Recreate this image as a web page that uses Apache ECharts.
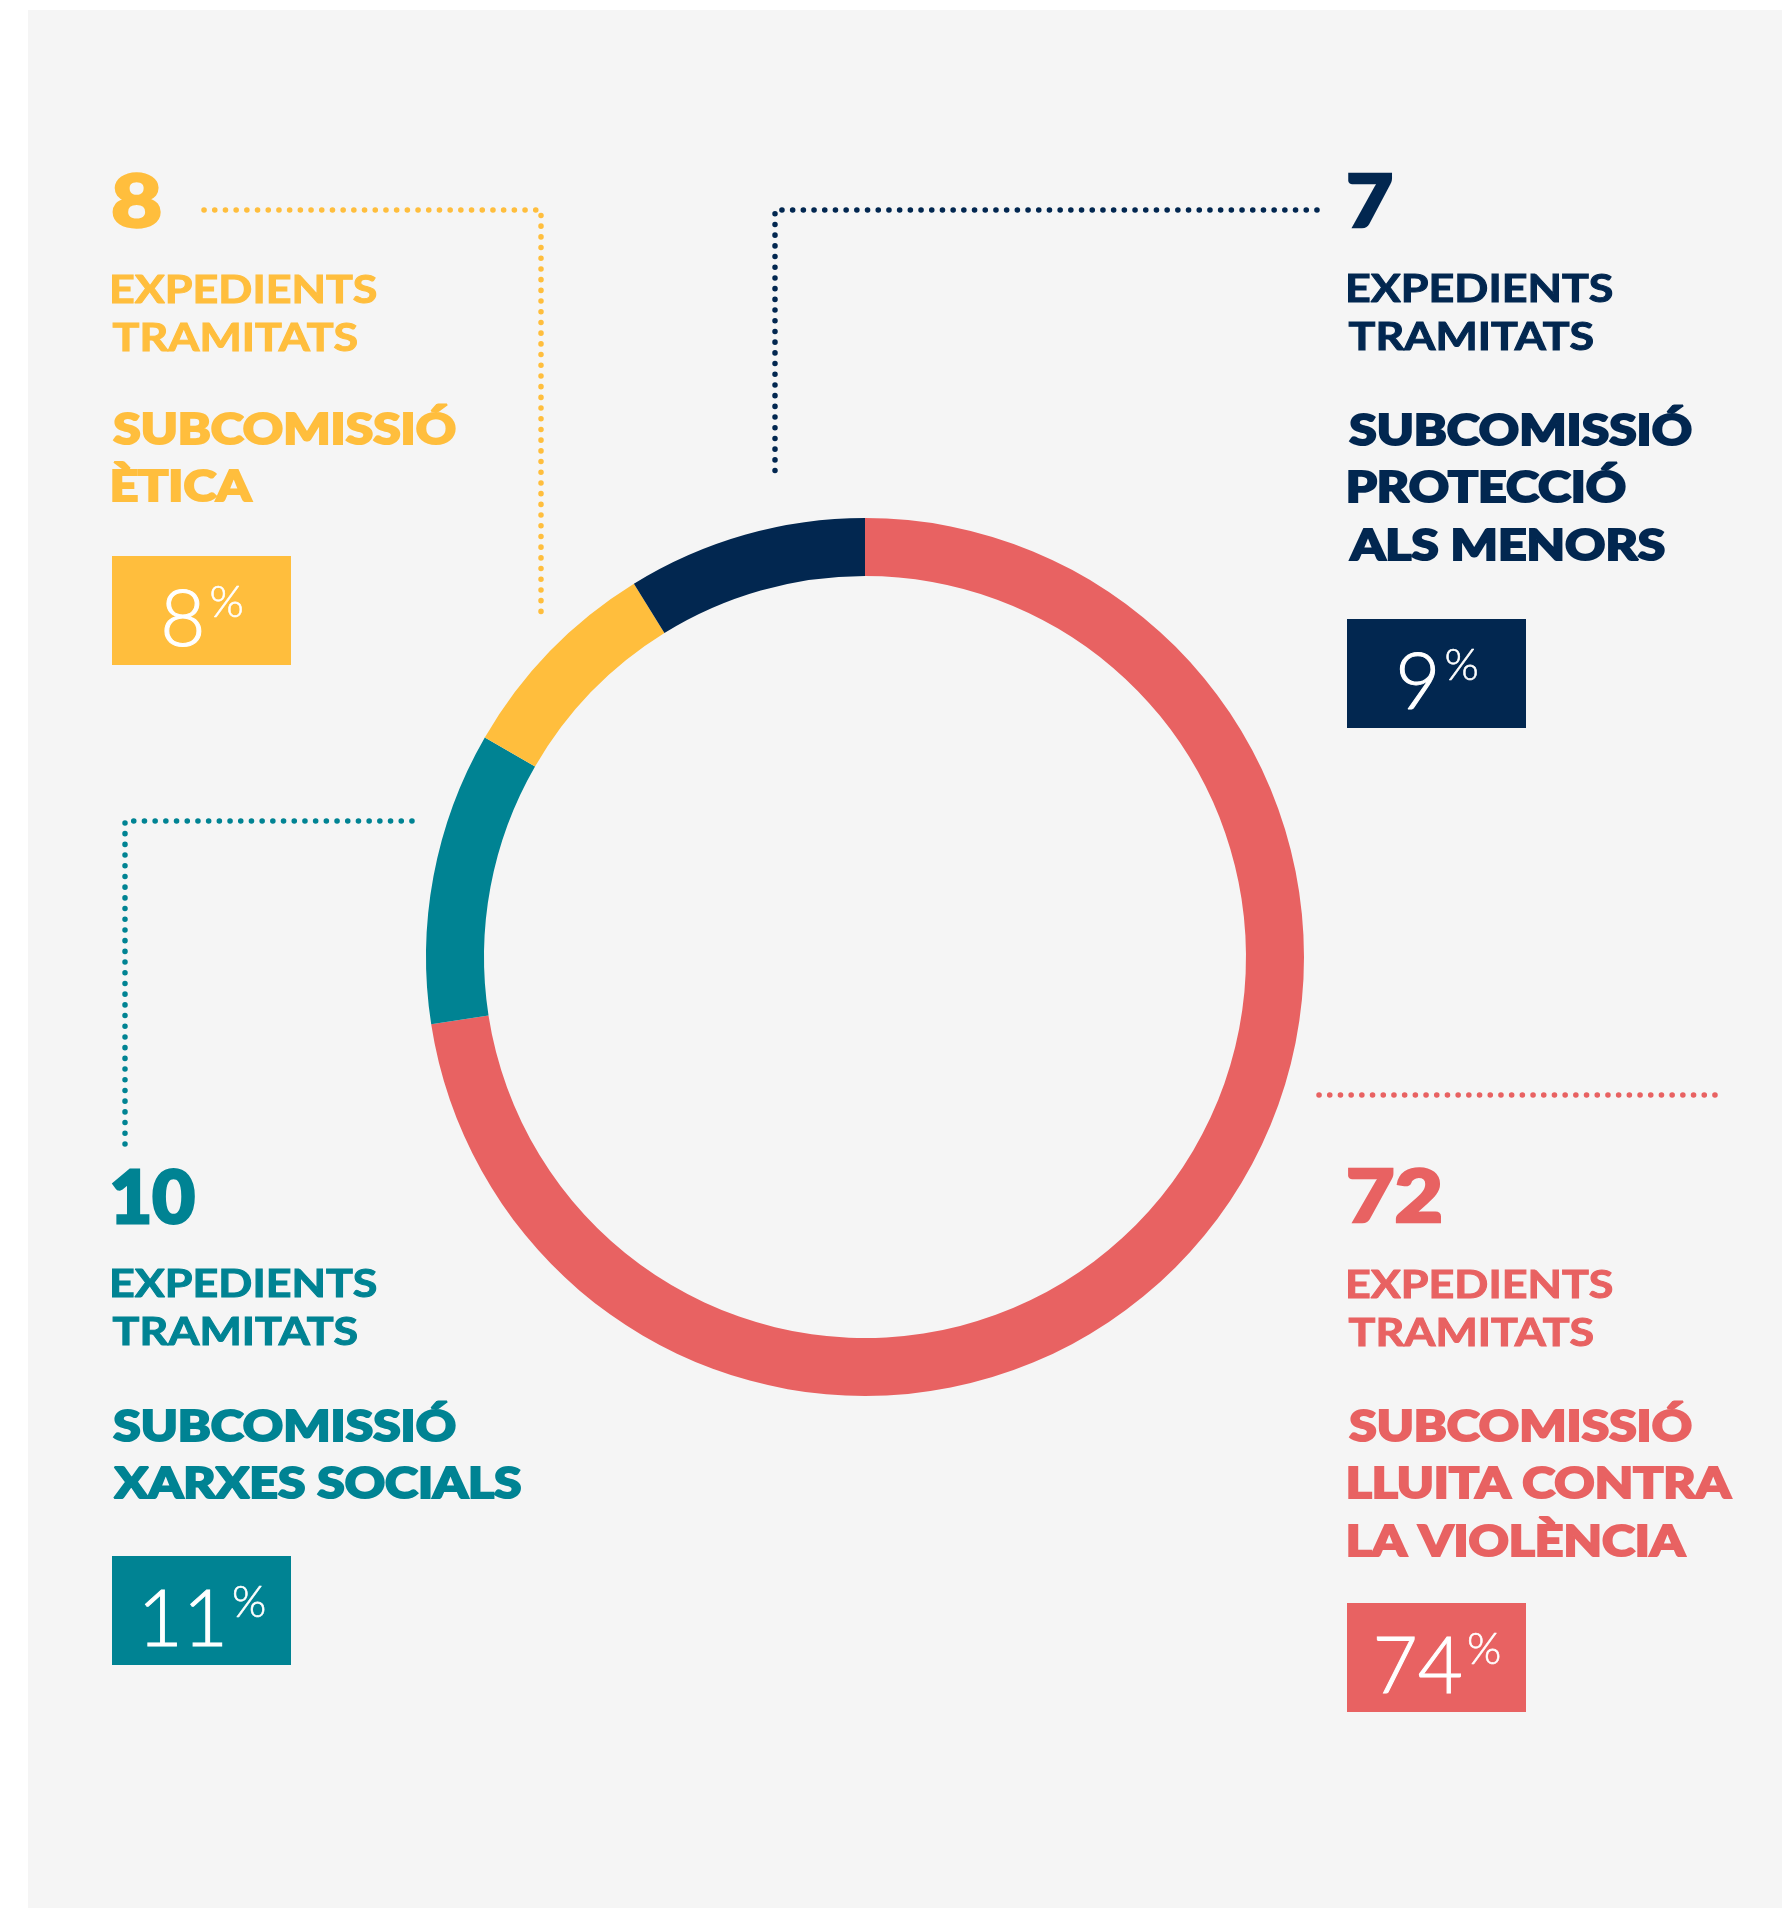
<!DOCTYPE html>
<html>
<head>
<meta charset="utf-8">
<script src="https://cdn.jsdelivr.net/npm/echarts@6/dist/echarts.min.js"></script>
<style>
  html, body { margin: 0; padding: 0; background: #fff; }
  #main { width: 1782px; height: 1908px; }
</style>
</head>
<body>
<div id="main"></div>
<script>
// dades
const categories = [
  ['SUBCOMISSIÓ', 'LLUITA CONTRA', 'LA VIOLÈNCIA'],
  ['SUBCOMISSIÓ', 'XARXES SOCIALS'],
  ['SUBCOMISSIÓ', 'ÈTICA'],
  ['SUBCOMISSIÓ', 'PROTECCIÓ', 'ALS MENORS']
];
const expedients = [72, 10, 8, 7];
const percents = [74, 11, 8, 9];
const subtitle = ['EXPEDIENTS', 'TRAMITATS'];
const colors = ['#E86262', '#008393', '#FFBE3D', '#022750'];

// posicio de cada bloc de text (numW = amplada del numero gran)
const blocks = [
  { x: 1348, numY: 1198, numW: 94, expY: 1286, nameY: 1427, boxX: 1347, boxY: 1603, dots: [[1319, 1095], [1723, 1095]] },
  { x: 112, numY: 1199, numW: 83, expY: 1285, nameY: 1427, boxX: 112, boxY: 1556, dots: [[412, 821], [125, 821], [125, 1148]] },
  { x: 112, numY: 203, numW: 49, expY: 291, nameY: 430, boxX: 112, boxY: 556, dots: [[204, 210], [541, 210], [541, 617]] },
  { x: 1348, numY: 203, numW: 45, expY: 290, nameY: 431, boxX: 1347, boxY: 619, dots: [[1317, 210], [775, 210], [775, 480]] }
];

// estils de text: font, gruix del contorn
const numStyle = { font: '900 73px Lato', stroke: 3 };
const expStyle = { font: 'bold 38px Lato', stroke: 1.2 };
const nameStyle = { font: '900 42px Lato', stroke: 2.4 };

// mesura de text per ajustar l'amplada
const ctx = document.createElement('canvas').getContext('2d');
function measure(text, font) {
  ctx.font = font;
  const m = ctx.measureText(text);
  return { left: m.actualBoundingBoxLeft, width: m.actualBoundingBoxLeft + m.actualBoundingBoxRight };
}
const expScale = (265 - expStyle.stroke) / measure('EXPEDIENTS', expStyle.font).width;
const nameScale = (344 - nameStyle.stroke) / measure('SUBCOMISSIÓ', nameStyle.font).width;

function textEl(text, st, color, left, y, s) {
  const m = measure(text, st.font);
  return {
    type: 'text', x: left + st.stroke / 2 + m.left * s, y: y, scaleX: s,
    style: {
      text: text, fill: color, stroke: color, lineWidth: st.stroke / s,
      font: st.font, verticalAlign: 'middle', align: 'left'
    }
  };
}

const graphics = [
  { type: 'rect', z: -10, shape: { x: 28, y: 10, width: 1754, height: 1898 }, style: { fill: '#F5F5F5' } }
];

blocks.forEach(function (b, i) {
  const c = colors[i];
  const num = String(expedients[i]);
  const numScale = (b.numW - numStyle.stroke) / measure(num, numStyle.font).width;
  graphics.push({
    type: 'polyline', shape: { points: b.dots },
    style: { stroke: c, lineWidth: 5.5, lineDash: [0.1, 10.6], lineCap: 'round', fill: null }
  });
  graphics.push(textEl(num, numStyle, c, b.x, b.numY, numScale));
  subtitle.forEach(function (t, k) {
    graphics.push(textEl(t, expStyle, c, b.x, b.expY + k * 47.5, expScale));
  });
  categories[i].forEach(function (t, k) {
    graphics.push(textEl(t, nameStyle, c, b.x, b.nameY + k * 57.5, nameScale));
  });
  graphics.push({
    type: 'rect', shape: { x: b.boxX, y: b.boxY, width: 179, height: 109 }, style: { fill: c }
  });
  graphics.push({
    type: 'text', x: b.boxX + 90, y: b.boxY + 65,
    style: {
      text: '{n|' + percents[i] + '}{p|%}',
      align: 'center', verticalAlign: 'middle',
      rich: {
        n: { fontFamily: 'Lato', fontWeight: 300, fontSize: 78, lineHeight: 80, fill: '#fff', stroke: '#fff', lineWidth: 1 },
        p: { fontFamily: 'Lato', fontWeight: 300, fontSize: 44, lineHeight: 50, verticalAlign: 'top', fill: '#fff', stroke: '#fff', lineWidth: 0.6, padding: [0, 0, 0, 4] }
      }
    }
  });
});

const myChart = echarts.init(document.getElementById('main'));
myChart.setOption({
  backgroundColor: '#fff',
  animation: false,
  color: colors,
  graphic: graphics,
  series: [
    {
      type: 'pie',
      center: [865, 957],
      radius: [381, 439],
      startAngle: 90,
      clockwise: true,
      silent: true,
      label: { show: false },
      labelLine: { show: false },
      data: percents.map(function (v, i) {
        return { value: v, name: categories[i].join(' ') };
      })
    }
  ]
});
</script>
</body>
</html>
